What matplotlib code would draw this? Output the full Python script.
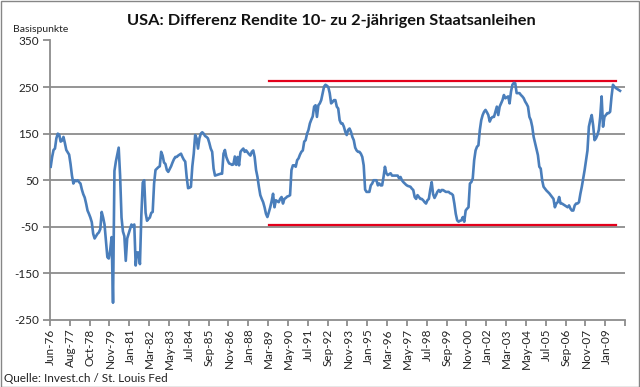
import matplotlib
matplotlib.use("Agg")
import matplotlib.pyplot as plt
import numpy as np

# ---- data (basis points, monthly) ----
spread = [
    79, 100, 115, 118, 140, 150, 148, 133, 135, 143,
    130, 115, 110, 105, 85, 60, 43, 50, 48, 50,
    46, 43, 30, 20, 13, 0, -15, -22, -30, -40,
    -65, -75, -70, -65, -62, -55, -18, -30, -45, -80,
    -115, -118, -100, -72, -213, 70, 90, 105, 120, 60,
    -30, -60, -70, -123, -75, -65, -55, -45, -50, -45,
    -133, -105, -105, -130, -25, 45, 50, -20, -37, -33,
    -30, -20, -18, 43, 72, 75, 78, 80, 111, 103,
    88, 85, 72, 68, 74, 80, 88, 95, 100, 100,
    103, 105, 107, 100, 94, 90, 57, 33, 34, 36,
    80, 107, 147, 140, 118, 140, 150, 153, 150, 145,
    143, 140, 130, 118, 111, 75, 60, 61, 62, 63,
    64, 64, 107, 115, 100, 92, 86, 85, 83, 84,
    101, 83, 100, 82, 111, 115, 118, 111, 114, 110,
    106, 103, 111, 114, 100, 72, 57, 36, 18, 10,
    3, -8, -22, -29, -19, -8, 5, 21, -8, 7,
    5, 3, 10, 14, 0, 10, 12, 15, 16, 18,
    72, 82, 82, 79, 93, 97, 105, 111, 114, 133,
    136, 150, 158, 172, 180, 187, 208, 211, 186, 211,
    215, 222, 237, 251, 255, 253, 250, 237, 215, 218,
    222, 222, 208, 204, 179, 172, 172, 165, 154, 147,
    158, 161, 154, 143, 136, 120, 114, 111, 111, 107,
    100, 82, 30, 25, 25, 25, 39, 43, 50, 50,
    50, 39, 43, 39, 39, 57, 79, 65, 61, 63,
    65, 60, 60, 60, 60, 60, 54, 57, 50, 46,
    43, 40, 38, 37, 36, 32, 29, 14, 10, 18,
    14, 10, 10, 7, 3, 0, 7, 10, 30, 46,
    20, 12, 18, 25, 29, 25, 29, 29, 27, 25,
    25, 25, 22, 21, 18, 0, -22, -36, -39, -37,
    -36, -29, -39, -15, -11, -8, 43, 46, 54, 93,
    114, 122, 125, 158, 179, 190, 197, 201, 196, 190,
    176, 183, 186, 186, 197, 208, 190, 208, 215, 222,
    233, 226, 228, 230, 215, 240, 255, 259, 258, 237,
    237, 237, 233, 230, 226, 219, 214, 208, 186, 179,
    165, 143, 130, 118, 104, 79, 75, 50, 36, 32,
    28, 25, 22, 18, 14, 10, -8, 0, 3, 14,
    0, 0, -2, -4, -6, -8, -4, -11, -15, -15,
    -4, 0, 0, 3, 21, 36, 54, 72, 93, 114,
    165, 179, 190, 168, 136, 140, 147, 158, 186, 230,
    165, 186, 190, 194, 194, 197, 230, 255, 251, 248,
    246, 244, 242,
]

tick_labels = ["Jun-76", "Aug-77", "Oct-78", "Nov-79", "Jan-81", "Mar-82", "May-83",
               "Jul-84", "Sep-85", "Nov-86", "Jan-88", "Mar-89", "May-90", "Jul-91",
               "Sep-92", "Nov-93", "Jan-95", "Mar-96", "May-97", "Jul-98", "Sep-99",
               "Nov-00", "Jan-02", "Mar-03", "May-04", "Jul-05", "Sep-06", "Nov-07",
               "Jan-09"]
label_step = 14

# band lines (red)
band_top = 262
band_bottom = -46
band_start = 154
band_end = 399

y_ticks = [-250, -150, -50, 50, 150, 250, 350]

# ---- figure ----
plt.rcParams['font.family'] = ['Lato', 'DejaVu Sans']
W, H = 640, 387
fig = plt.figure(figsize=(W / 100, H / 100), dpi=100)
fig.patch.set_facecolor('white')

# outer border
fig.add_artist(plt.Rectangle((0.5 / W, 0.5 / H), 1 - 1.5 / W, 1 - 1.5 / H,
                             transform=fig.transFigure, fill=False,
                             edgecolor='#868686', lw=1.0))

left, right, top, bottom = 50, 625, 40.5, 320
ax = fig.add_axes([left / W, 1 - bottom / H, (right - left) / W, (bottom - top) / H])

n = len(spread)
x = np.arange(n)

grid_col = '#8c8c8c'
for v in y_ticks[1:]:
    ax.axhline(v, color=grid_col, lw=1.3, zorder=1)

ax.plot([band_start, band_end], [band_top, band_top], color='#e3001b', lw=1.6, zorder=2)
ax.plot([band_start, band_end], [band_bottom, band_bottom], color='#e3001b', lw=1.6, zorder=2)

ax.plot(x, spread, color='#4a7ebb', lw=1.9, zorder=3, solid_joinstyle='round')

ax.set_xlim(-0.5, n - 0.5)
ax.set_ylim(-250, 350)

for s in ['top', 'right']:
    ax.spines[s].set_visible(False)
for s in ['left', 'bottom']:
    ax.spines[s].set_color(grid_col)
    ax.spines[s].set_linewidth(1.3)

ax.set_yticks(y_ticks)
ax.set_yticklabels([str(v) for v in y_ticks], fontsize=8.5, color='#222222')
ax.tick_params(axis='y', length=5, width=1.3, color=grid_col, pad=3)

pos = np.arange(len(tick_labels)) * label_step
ax.set_xticks(pos)
ax.set_xticklabels(tick_labels, rotation=90, fontsize=8.5, color='#222222')
ax.tick_params(axis='x', which='major', length=0, pad=6)
ax.set_xticks(np.arange(len(tick_labels) + 1) * label_step - 0.5, minor=True)
ax.tick_params(axis='x', which='minor', length=4, width=1.3, color=grid_col)

fig.text(331 / W, 1 - 21 / H, "USA: Differenz Rendite 10- zu 2-jährigen Staatsanleihen",
         ha='center', va='center', fontsize=11.8, fontweight='bold', color='#111111')
fig.text(13 / W, 1 - 30 / H, "Basispunkte", ha='left', va='center', fontsize=7.5,
         color='#222222')
fig.text(4 / W, 1 - 379 / H, "Quelle: Invest.ch / St. Louis Fed", ha='left', va='center',
         fontsize=8.5, color='#222222')

fig.savefig("out.png", dpi=100, facecolor='white')
